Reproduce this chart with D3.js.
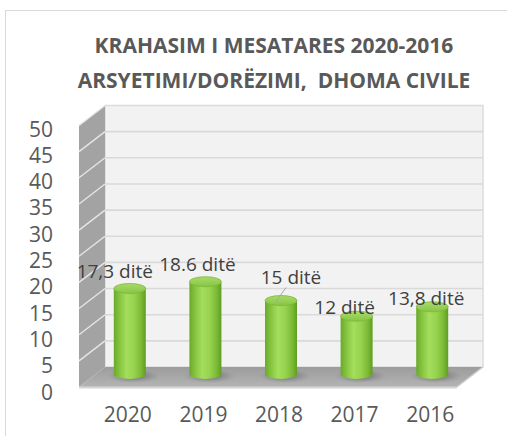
<!DOCTYPE html>
<html><head><meta charset="utf-8">
<script src="https://cdn.jsdelivr.net/npm/d3@7"></script>
<style>body{margin:0;background:#fff;} svg{display:block;} text{white-space:pre;}</style>
</head><body>
<svg id="c" width="507" height="436"></svg>
<script>
const categories = ["2020","2019","2018","2017","2016"];
const values = [17.3, 18.6, 15, 12, 13.8];
const valueLabels = ["17,3 ditë","18.6 ditë","15 ditë","12 ditë","13,8 ditë"];
const yTicks = [0,5,10,15,20,25,30,35,40,45,50];
const titleLines = ["KRAHASIM I MESATARES 2020-2016","ARSYETIMI/DORËZIMI,  DHOMA CIVILE"];
// manual label nudges (dx, dy from bar top)
const labelNudge = [[-15,-11],[-8,-11],[10,-17],[-12,-2],[-6,-2]];

const svg = d3.select("#c");
const defs = svg.append("defs");
const FONT = "'Open Sans', sans-serif";

// frame
svg.append("rect").attr("x",5.5).attr("y",10.5).attr("width",600).attr("height",600)
  .attr("fill","#fff").attr("stroke","#d9d9d9").attr("stroke-width",1);

// title
svg.selectAll("text.title").data(titleLines).join("text").attr("class","title")
  .attr("x",274).attr("y",(d,i)=>53+i*35).attr("text-anchor","middle")
  .attr("font-family",FONT).attr("font-weight","bold").attr("font-size",21)
  .attr("fill","#595959").attr("xml:space","preserve").text(d=>d);

// 3D geometry
const backL = 105, backR = 483, depthX = -26, depthY = 20;
const yBack = d3.scaleLinear().domain([0,50]).range([367,105.5]);
const yBar = d3.scaleLinear().domain([0,50]).range([379,379-261.5]);
const x = d3.scaleBand().domain(categories).range([backL+depthX/2, backR+depthX/2]).paddingInner(0).paddingOuter(0);

// back wall
svg.append("rect").attr("x",backL).attr("y",yBack(50)).attr("width",backR-backL)
  .attr("height",yBack(0)-yBack(50)).attr("fill","#f2f2f2").attr("stroke","#dcdcdc").attr("stroke-width",1.5);
svg.selectAll("line.grid").data(yTicks.filter(t=>t>0&&t<50)).join("line").attr("class","grid")
  .attr("x1",backL).attr("x2",backR).attr("y1",d=>yBack(d)).attr("y2",d=>yBack(d))
  .attr("stroke","#d9d9d9").attr("stroke-width",1.6);

// side wall
svg.append("path").attr("d",`M${backL},${yBack(50)} L${backL+depthX},${yBack(50)+depthY} L${backL+depthX},${yBack(0)+depthY} L${backL},${yBack(0)} Z`)
  .attr("fill","#a3a3a3");
svg.selectAll("line.sgrid").data(yTicks.filter(t=>t>0)).join("line").attr("class","sgrid")
  .attr("x1",backL).attr("x2",backL+depthX).attr("y1",d=>yBack(d)).attr("y2",d=>yBack(d)+depthY)
  .attr("stroke","#e6e6e6").attr("stroke-width",1.4);

// floor
const fg = defs.append("linearGradient").attr("id","floorG").attr("x1",0).attr("y1",0).attr("x2",0).attr("y2",1);
fg.append("stop").attr("offset","0%").attr("stop-color","#9c9c9c");
fg.append("stop").attr("offset","100%").attr("stop-color","#b4b4b4");
svg.append("path").attr("d",`M${backL},${yBack(0)} L${backR},${yBack(0)} L${backR+depthX},${yBack(0)+depthY} L${backL+depthX},${yBack(0)+depthY} Z`)
  .attr("fill","url(#floorG)");
svg.append("line").attr("x1",backL+depthX).attr("x2",backR+depthX).attr("y1",yBack(0)+depthY+0.5).attr("y2",yBack(0)+depthY+0.5)
  .attr("stroke","#d6d6d6").attr("stroke-width",2);
svg.append("line").attr("x1",backR).attr("x2",backR+depthX).attr("y1",yBack(0)).attr("y2",yBack(0)+depthY)
  .attr("stroke","#d0d0d0").attr("stroke-width",1.5);

// cylinder gradients
const bg = defs.append("linearGradient").attr("id","barG").attr("x1",0).attr("x2",1).attr("y1",0).attr("y2",0);
[["0%","#6aa92a"],["18%","#86c43f"],["40%","#a3de5c"],["62%","#98d450"],["85%","#7cba36"],["100%","#5f9d22"]]
  .forEach(s=>bg.append("stop").attr("offset",s[0]).attr("stop-color",s[1]));
const tg = defs.append("linearGradient").attr("id","topG").attr("x1",0).attr("x2",0).attr("y1",0).attr("y2",1);
tg.append("stop").attr("offset","0%").attr("stop-color","#a8dc68");
tg.append("stop").attr("offset","100%").attr("stop-color","#86c444");
const sg = defs.append("radialGradient").attr("id","shadG");
sg.append("stop").attr("offset","0%").attr("stop-color","#555").attr("stop-opacity",0.8);
sg.append("stop").attr("offset","100%").attr("stop-color","#777").attr("stop-opacity",0);

const rx = 16, ry = 5;
const bars = svg.selectAll("g.bar").data(categories).join("g").attr("class","bar");
bars.append("ellipse").attr("cx",d=>x(d)+x.bandwidth()/2+4).attr("cy",yBar(0)-3)
  .attr("rx",rx+10).attr("ry",ry+2).attr("fill","url(#shadG)");
bars.append("path").attr("d",(d,i)=>{
  const cx = x(d)+x.bandwidth()/2, yt = yBar(values[i]), yb = yBar(0)-ry;
  return `M${cx-rx},${yt} L${cx-rx},${yb} A${rx},${ry} 0 0 0 ${cx+rx},${yb} L${cx+rx},${yt} Z`;
}).attr("fill","url(#barG)");
bars.append("ellipse").attr("cx",d=>x(d)+x.bandwidth()/2).attr("cy",(d,i)=>yBar(values[i]))
  .attr("rx",rx).attr("ry",ry).attr("fill","url(#topG)").attr("stroke","#7cb83c").attr("stroke-width",0.8);

// value labels
svg.selectAll("text.vl").data(valueLabels).join("text").attr("class","vl")
  .attr("x",(d,i)=>x(categories[i])+x.bandwidth()/2+labelNudge[i][0])
  .attr("y",(d,i)=>yBar(values[i])+labelNudge[i][1])
  .attr("text-anchor","middle").attr("font-family",FONT).attr("font-size",19)
  .attr("fill","#404040").text(d=>d);
// leader line for 2018
svg.append("line")
  .attr("x1",x("2018")+x.bandwidth()/2+5).attr("y1",yBar(15)-13)
  .attr("x2",x("2018")+x.bandwidth()/2-5).attr("y2",yBar(15)+1)
  .attr("stroke","#a6a6a6").attr("stroke-width",1);

// y axis labels
const yLab = d3.scaleLinear().domain([0,50]).range([392,129]);
svg.selectAll("text.yl").data(yTicks).join("text").attr("class","yl")
  .attr("x",53).attr("y",d=>yLab(d)).attr("dy","0.36em").attr("text-anchor","end")
  .attr("font-family",FONT).attr("font-size",21).attr("fill","#595959").text(d=>d);

// x axis labels
svg.selectAll("text.xl").data(categories).join("text").attr("class","xl")
  .attr("x",d=>x(d)+x.bandwidth()/2-2).attr("y",421.5).attr("text-anchor","middle")
  .attr("font-family",FONT).attr("font-size",21).attr("fill","#595959").text(d=>d);
</script>
</body></html>
